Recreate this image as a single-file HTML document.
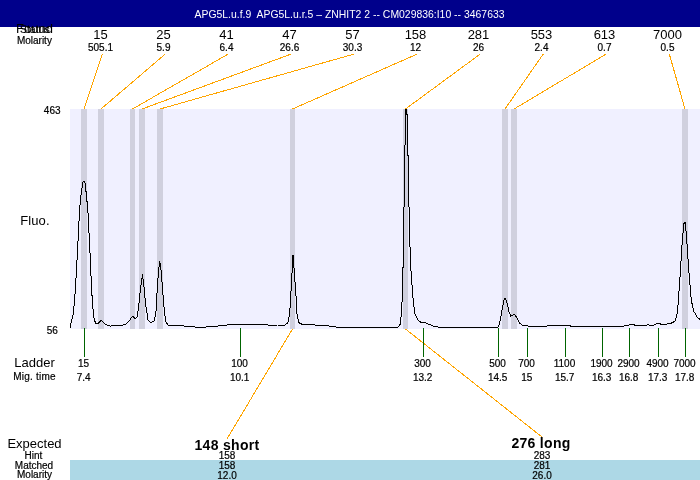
<!DOCTYPE html>
<html><head><meta charset="utf-8"><title>chart</title>
<style>
html,body{margin:0;padding:0;background:#fff;}
body{width:700px;height:480px;overflow:hidden;}
svg{display:block;font-family:"Liberation Sans",Arial,Helvetica,sans-serif;fill:#000;}
.t13{font-size:13px}.t11{font-size:10px;stroke:#000;stroke-width:0.2px}.t10{font-size:10px;stroke:#000;stroke-width:0.2px}
.m{text-anchor:middle}
</style></head><body>
<svg width="700" height="480" viewBox="0 0 700 480">
<rect width="700" height="480" fill="#fff"/>
<rect x="0" y="0" width="700" height="27" fill="#00008b"/>
<text x="34.5" y="33" class="t13 m">Found</text>
<text x="34.8" y="33" class="t11 m" style="font-size:10.5px">Status</text>
<text x="194.5" y="18" textLength="310" lengthAdjust="spacing" style="fill:#fff;font-size:10.4px" xml:space="preserve">APG5L.u.f.9  APG5L.u.r.5 – ZNHIT2 2 -- CM029836:I10 -- 3467633</text>
<text x="34.4" y="44" class="t11 m">Molarity</text>
<rect x="70" y="109" width="630" height="220" fill="#f0f0ff"/>
<rect x="81" y="109" width="6" height="220" fill="#d0d0de"/>
<rect x="98" y="109" width="6" height="220" fill="#d0d0de"/>
<rect x="130" y="109" width="5" height="220" fill="#d0d0de"/>
<rect x="139" y="109" width="6" height="220" fill="#d0d0de"/>
<rect x="157" y="109" width="6" height="220" fill="#d0d0de"/>
<rect x="290" y="109" width="5" height="220" fill="#d0d0de"/>
<rect x="403" y="109" width="5" height="220" fill="#d0d0de"/>
<rect x="502" y="109" width="6" height="220" fill="#d0d0de"/>
<rect x="511" y="109" width="6" height="220" fill="#d0d0de"/>
<rect x="682" y="109" width="6" height="220" fill="#d0d0de"/>
<line x1="102.3" y1="54" x2="84.0" y2="109" stroke="#ffa500" stroke-width="1" shape-rendering="crispEdges"/>
<line x1="165.3" y1="54" x2="101.0" y2="109" stroke="#ffa500" stroke-width="1" shape-rendering="crispEdges"/>
<line x1="228.3" y1="54" x2="132.5" y2="109" stroke="#ffa500" stroke-width="1" shape-rendering="crispEdges"/>
<line x1="291.3" y1="54" x2="142.0" y2="109" stroke="#ffa500" stroke-width="1" shape-rendering="crispEdges"/>
<line x1="354.3" y1="54" x2="160.0" y2="109" stroke="#ffa500" stroke-width="1" shape-rendering="crispEdges"/>
<line x1="417.3" y1="54" x2="292.5" y2="109" stroke="#ffa500" stroke-width="1" shape-rendering="crispEdges"/>
<line x1="480.3" y1="54" x2="405.5" y2="109" stroke="#ffa500" stroke-width="1" shape-rendering="crispEdges"/>
<line x1="543.3" y1="54" x2="505.0" y2="109" stroke="#ffa500" stroke-width="1" shape-rendering="crispEdges"/>
<line x1="606.3" y1="54" x2="514.0" y2="109" stroke="#ffa500" stroke-width="1" shape-rendering="crispEdges"/>
<line x1="669.3" y1="54" x2="685.0" y2="109" stroke="#ffa500" stroke-width="1" shape-rendering="crispEdges"/>
<line x1="292.5" y1="329" x2="227" y2="439" stroke="#ffa500" stroke-width="1" shape-rendering="crispEdges"/>
<line x1="405.5" y1="329" x2="542" y2="437" stroke="#ffa500" stroke-width="1" shape-rendering="crispEdges"/>
<text x="100.5" y="39" class="t13 m">15</text><text x="100.5" y="51" class="t10 m">505.1</text>
<text x="163.5" y="39" class="t13 m">25</text><text x="163.5" y="51" class="t10 m">5.9</text>
<text x="226.5" y="39" class="t13 m">41</text><text x="226.5" y="51" class="t10 m">6.4</text>
<text x="289.5" y="39" class="t13 m">47</text><text x="289.5" y="51" class="t10 m">26.6</text>
<text x="352.5" y="39" class="t13 m">57</text><text x="352.5" y="51" class="t10 m">30.3</text>
<text x="415.5" y="39" class="t13 m">158</text><text x="415.5" y="51" class="t10 m">12</text>
<text x="478.5" y="39" class="t13 m">281</text><text x="478.5" y="51" class="t10 m">26</text>
<text x="541.5" y="39" class="t13 m">553</text><text x="541.5" y="51" class="t10 m">2.4</text>
<text x="604.5" y="39" class="t13 m">613</text><text x="604.5" y="51" class="t10 m">0.7</text>
<text x="667.5" y="39" class="t13 m">7000</text><text x="667.5" y="51" class="t10 m">0.5</text>
<text x="52.2" y="114" class="t11 m">463</text>
<text x="52.2" y="334" class="t11 m">56</text>
<text x="34.9" y="225" class="t13 m" style="letter-spacing:0.1px">Fluo.</text>
<text x="34.5" y="367" class="t13 m">Ladder</text>
<text x="34.5" y="380" class="t11 m" style="letter-spacing:0.2px">Mig. time</text>
<line x1="84.5" y1="328" x2="84.5" y2="357" stroke="#006400" stroke-width="1"/>
<text x="83.5" y="367" class="t11 m">15</text><text x="83.7" y="380.6" class="t11 m">7.4</text>
<line x1="240.5" y1="328" x2="240.5" y2="357" stroke="#006400" stroke-width="1"/>
<text x="239.5" y="367" class="t11 m">100</text><text x="239.7" y="380.6" class="t11 m">10.1</text>
<line x1="423.5" y1="328" x2="423.5" y2="357" stroke="#006400" stroke-width="1"/>
<text x="422.5" y="367" class="t11 m">300</text><text x="422.7" y="380.6" class="t11 m">13.2</text>
<line x1="498.5" y1="328" x2="498.5" y2="357" stroke="#006400" stroke-width="1"/>
<text x="497.5" y="367" class="t11 m">500</text><text x="497.7" y="380.6" class="t11 m">14.5</text>
<line x1="527.5" y1="328" x2="527.5" y2="357" stroke="#006400" stroke-width="1"/>
<text x="526.5" y="367" class="t11 m">700</text><text x="526.7" y="380.6" class="t11 m">15</text>
<line x1="565.5" y1="328" x2="565.5" y2="357" stroke="#006400" stroke-width="1"/>
<text x="564.5" y="367" class="t11 m">1100</text><text x="564.7" y="380.6" class="t11 m">15.7</text>
<line x1="602.5" y1="328" x2="602.5" y2="357" stroke="#006400" stroke-width="1"/>
<text x="601.5" y="367" class="t11 m">1900</text><text x="601.7" y="380.6" class="t11 m">16.3</text>
<line x1="629.5" y1="328" x2="629.5" y2="357" stroke="#006400" stroke-width="1"/>
<text x="628.5" y="367" class="t11 m">2900</text><text x="628.7" y="380.6" class="t11 m">16.8</text>
<line x1="658.5" y1="328" x2="658.5" y2="357" stroke="#006400" stroke-width="1"/>
<text x="657.5" y="367" class="t11 m">4900</text><text x="657.7" y="380.6" class="t11 m">17.3</text>
<line x1="685.5" y1="328" x2="685.5" y2="357" stroke="#006400" stroke-width="1"/>
<text x="684.5" y="367" class="t11 m">7000</text><text x="684.7" y="380.6" class="t11 m">17.8</text>
<polyline points="70,327.5 70.5,325.5 71.5,321.2 72.5,317.5 73.5,312 75.3,291 77.3,255 79.6,209.4 81.3,192.3 83.2,181 84.8,181 86.1,192.3 87.8,209.4 89.9,250 91,275.6 92.4,303 94.1,318.4 95.5,323.2 98.4,323.2 101.3,320.1 105.3,324.4 110.4,326.1 114.7,325 119,326.1 125.9,324.4 129.3,321 132.4,316.2 135,318.4 137,317.6 138.7,306.4 140.4,289.3 142.5,274.2 143.9,285.9 145.6,304.7 148.1,320.1 150.7,322.4 154.1,321 155.9,313.3 157.2,289.3 158.4,272.1 159.8,261.5 161.3,272.1 163.6,303 165.6,321 167.9,325 174.7,325.3 185,326.1 195.3,327 205.6,327 226,325.3 229.6,324.4 265.6,324.4 269,325.3 277.6,325 284.4,325.3 287.9,322.7 289.7,313 291.3,285.9 293,255 295.6,289.3 297.1,315 299,322.7 302.4,324.4 305,324.4 325.6,325.6 335.9,327 356.4,327 387.3,327.3 398.4,327 400.5,323.6 401.9,306.4 402.8,270 403.5,262 403.5,208 404.5,206 404.5,146 405.5,144 405.5,109.5 406.5,109.5 406.5,114 407.5,115 407.5,155 408.5,156 408.5,206 409.5,208 409.5,246 410.5,248 410.5,262 411.3,275.6 413,297.9 414.7,313.3 418.1,320.1 421.6,322.7 425,322.7 433.6,326.1 439.6,327.3 476.4,327.9 497.9,327 499.6,323.6 502.1,309.9 503.9,300.4 505.2,298.2 506.9,302.1 509,311.6 510.7,316.2 514.5,314.1 516.7,317.6 519.3,322.7 522.7,325.6 526.1,325 527.9,326.1 545,326.1 561.3,325.3 569,325.3 570.7,326.1 623.9,326.1 627.3,325.3 633.3,324.4 635,325.3 646.1,325.3 647.9,324.4 649.6,325.3 653.9,325 658.1,323.2 661.6,324.4 670,323.75 675,321.25 677.5,312.5 680,277.5 682,245 683.75,223.75 685,222 686.25,232.5 688.75,270 691.25,300 693.75,311.25 697.5,317.5 700,319.5" fill="none" stroke="#000" stroke-width="1" stroke-linejoin="round" shape-rendering="crispEdges"/>
<rect x="70" y="460" width="630" height="20" fill="#add8e6"/>
<text x="34.5" y="448" class="t13 m">Expected</text>
<text x="33.5" y="458.5" class="t11 m">Hint</text>
<text x="34" y="469" class="t11 m">Matched</text>
<text x="34.5" y="478" class="t11 m">Molarity</text>
<text x="227" y="450" class="m" style="font-size:14px;font-weight:bold;letter-spacing:0.3px">148 short</text>
<text x="227" y="459.4" class="t10 m">158</text><text x="227" y="469" class="t10 m">158</text><text x="227" y="479" class="t10 m">12.0</text>
<text x="541" y="448" class="m" style="font-size:14px;font-weight:bold;letter-spacing:0.3px">276 long</text>
<text x="542" y="459.4" class="t10 m">283</text><text x="542" y="469" class="t10 m">281</text><text x="542" y="479" class="t10 m">26.0</text>
</svg></body></html>
